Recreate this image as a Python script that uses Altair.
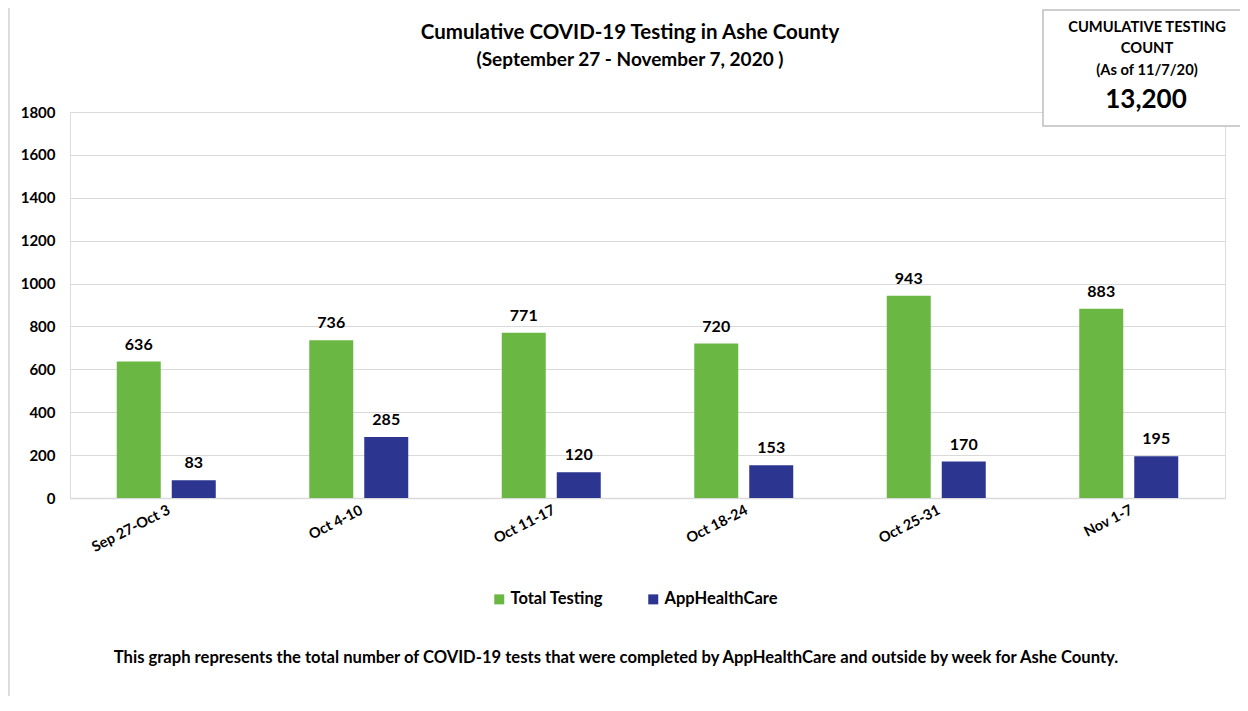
import altair as alt
import pandas as pd

weeks = ["Sep 27-Oct 3", "Oct 4-10", "Oct 11-17", "Oct 18-24", "Oct 25-31", "Nov 1-7"]
total_testing = [636, 736, 771, 720, 943, 883]
apphealthcare = [83, 285, 120, 153, 170, 195]
series_names = ["Total Testing", "AppHealthCare"]
series_colors = ["#6AB843", "#2C3590"]
y_ticks = [0, 200, 400, 600, 800, 1000, 1200, 1400, 1600, 1800]

title_text = "Cumulative COVID-19 Testing in Ashe County"
subtitle_text = "(September 27 - November 7, 2020 )"
box_lines = ["CUMULATIVE TESTING", "COUNT", "(As of 11/7/20)"]
box_value = "13,200"
caption_text = ("This graph represents the total number of COVID-19 tests that were completed "
                "by AppHealthCare and outside by week for Ashe County.")

rows = []
for w, t, a in zip(weeks, total_testing, apphealthcare):
    rows.append({"week": w, "series": series_names[0], "value": t})
    rows.append({"week": w, "series": series_names[1], "value": a})
df = pd.DataFrame(rows)

FONT = "Lato"
W, H = 1155, 386

x_enc = alt.X("week:N", sort=weeks, title=None,
              scale=alt.Scale(paddingInner=0, paddingOuter=0),
              axis=alt.Axis(labelAngle=-27, labelAlign="right", labelBaseline="top",
                            labelFont=FONT, labelFontWeight="bold", labelFontSize=14.5,
                            labelColor="#000000", labelPadding=5, ticks=False,
                            domainColor="#d9d9d9", domainWidth=1.5, grid=False))
xo_enc = alt.XOffset("series:N", sort=series_names,
                     scale=alt.Scale(domain=series_names, paddingInner=0.2, paddingOuter=0.85))
y_enc = alt.Y("value:Q", title=None,
              scale=alt.Scale(domain=[0, 1800], nice=False),
              axis=alt.Axis(values=y_ticks, format="d", labelFont=FONT, labelFontWeight="bold",
                            labelFontSize=15, labelColor="#000000", labelPadding=15,
                            ticks=False, domain=False, gridColor="#d9d9d9", gridWidth=1.2))

base = alt.Chart(df)

bars = base.mark_bar().encode(
    x=x_enc, xOffset=xo_enc, y=y_enc,
    color=alt.Color("series:N", sort=series_names,
                    scale=alt.Scale(domain=series_names, range=series_colors),
                    legend=alt.Legend(title=None, orient="none", direction="horizontal",
                                      legendX=421, legendY=479,
                                      symbolType="square", symbolSize=100, symbolStrokeWidth=0,
                                      labelFont=FONT, labelFontWeight="bold", labelFontSize=16.5,
                                      labelColor="#000000", columnPadding=42, labelOffset=3)),
)

labels = base.mark_text(baseline="bottom", dy=-9, font=FONT, fontWeight="bold",
                        fontSize=16, color="#000000").encode(
    x=alt.X("week:N", sort=weeks), xOffset=alt.XOffset("series:N", sort=series_names),
    y="value:Q", text="value:Q")

one = pd.DataFrame({"a": [0]})

title1 = alt.Chart(one).mark_text(text=title_text, font=FONT, fontWeight="bold", fontSize=20.5,
                                  color="#000000", align="center", baseline="middle").encode(
    x=alt.value(560), y=alt.value(-79))
title2 = alt.Chart(one).mark_text(text=subtitle_text, font=FONT, fontWeight="bold", fontSize=19,
                                  color="#000000", align="center", baseline="middle").encode(
    x=alt.value(560), y=alt.value(-52))

box = alt.Chart(one).mark_rect(fill="#ffffff", stroke="#bfbfbf", strokeWidth=1.5).encode(
    x=alt.value(973), x2=alt.value(1175), y=alt.value(-102), y2=alt.value(14))

box_ys = [-84, -63, -41]
box_text_layers = []
for txt, yy in zip(box_lines, box_ys):
    box_text_layers.append(
        alt.Chart(one).mark_text(text=txt, font=FONT, fontWeight="bold", fontSize=14.7,
                                 color="#000000", align="center", baseline="middle").encode(
            x=alt.value(1077), y=alt.value(yy)))
box_text_layers.append(
    alt.Chart(one).mark_text(text=box_value, font=FONT, fontWeight="bold", fontSize=26,
                             color="#000000", align="center", baseline="middle").encode(
        x=alt.value(1076), y=alt.value(-12)))

caption = alt.Chart(one).mark_text(
    text=caption_text, font=FONT, fontWeight="bold", fontSize=16.6, color="#000000",
    align="center", baseline="middle"
).encode(x=alt.value(546), y=alt.value(546))

left_border = alt.Chart(one).mark_rule(color="#d0d0d0", strokeWidth=1.5).encode(
    x=alt.value(-61), y=alt.value(-110), y2=alt.value(600))

chart = alt.layer(bars, labels, left_border, box, *box_text_layers, title1, title2, caption).properties(
    width=W, height=H,
    padding={"left": 62, "top": 104, "right": 15, "bottom": 198},
    autosize=alt.AutoSizeParams(type="none"),
).configure_view(stroke=None).configure(background="#ffffff")

chart.save("out.html", embed_options={"renderer": "svg", "actions": False})
